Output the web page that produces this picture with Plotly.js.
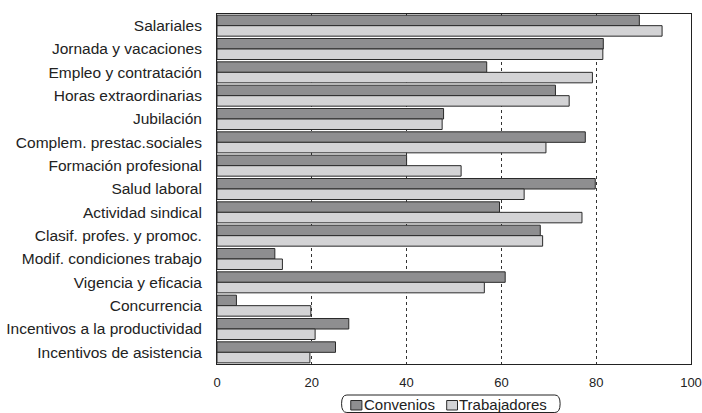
<!DOCTYPE html>
<html>
<head>
<meta charset="utf-8">
<script src="https://cdn.plot.ly/plotly-3.0.1.min.js"></script>
<style>html,body{margin:0;padding:0;background:#fff;}#chart{width:702px;height:413px;}</style>
</head>
<body>
<div id="chart"></div>
<script>
const categories = ["Salariales","Jornada y vacaciones","Empleo y contratación","Horas extraordinarias","Jubilación","Complem. prestac.sociales","Formación profesional","Salud laboral","Actividad sindical","Clasif. profes. y promoc.","Modif. condiciones trabajo","Vigencia y eficacia","Concurrencia","Incentivos a la productividad","Incentivos de asistencia"];
const convenios = [89.1,81.5,56.9,71.4,47.8,77.7,40.0,79.8,59.6,68.2,12.2,60.8,4.1,27.8,25.0];
const trabajadores = [93.9,81.4,79.2,74.3,47.5,69.4,51.5,64.8,77.0,68.7,13.8,56.4,19.8,20.7,19.6];
const seriesNames = ["Convenios","Trabajadores"];
const xTicks = [0,20,40,60,80,100];

const fam = "Liberation Sans, Arial, sans-serif";
const colors = ["#8e8e90","#d3d3d5"];
const edge = "#2a2a2a";
const traces = [
  {type:"bar", orientation:"h", name:seriesNames[0], y:categories, x:convenios,
   marker:{color:colors[0], line:{color:edge, width:1}}},
  {type:"bar", orientation:"h", name:seriesNames[1], y:categories, x:trabajadores,
   marker:{color:colors[1], line:{color:edge, width:1}}}
];

// manual compact legend (paper coordinates)
const legSquares = [[0.2822,0.3057],[0.4846,0.5074]];
const legTextX = [0.3099,0.5116];
const shapes = [{type:"path", xref:"paper", yref:"paper",
    path:"M 0.2740,-0.0886 L 0.7127,-0.0886 Q 0.7239,-0.0886 0.7239,-0.1136 Q 0.7239,-0.1386 0.7127,-0.1386 L 0.2740,-0.1386 Q 0.2628,-0.1386 0.2628,-0.1136 Q 0.2628,-0.0886 0.2740,-0.0886 Z",
    line:{color:"#222", width:1}, fillcolor:"rgba(0,0,0,0)"}];
const annotations = [];
seriesNames.forEach((n,i)=>{
  shapes.push({type:"rect", xref:"paper", yref:"paper", x0:legSquares[i][0], x1:legSquares[i][1], y0:-0.1043, y1:-0.1314,
               fillcolor:colors[i], line:{color:edge, width:1}});
  annotations.push({xref:"paper", yref:"paper", x:legTextX[i], y:-0.1143, xanchor:"left", yanchor:"middle",
                    text:n, showarrow:false, borderpad:0, font:{family:fam, size:15, color:"#222"}, xshift:-1});
});

const layout = {
  width:702, height:413,
  margin:{l:217, r:11, t:14, b:49, autoexpand:false},
  paper_bgcolor:"#fff", plot_bgcolor:"#fff",
  font:{family:fam, size:13, color:"#222"},
  barmode:"group", bargap:0.1, bargroupgap:0,
  showlegend:false,
  xaxis:{range:[0,100], tickvals:xTicks, showgrid:true, gridcolor:"#333", griddash:"dot", gridwidth:1,
         zeroline:false, showline:true, linecolor:"#222", linewidth:1, mirror:true,
         ticks:"outside", ticklen:6, tickcolor:"rgba(0,0,0,0)", tickfont:{family:fam, size:13, color:"#222"},
         fixedrange:true},
  yaxis:{autorange:"reversed", showgrid:false, zeroline:false, showline:true, linecolor:"#222", linewidth:1, mirror:true,
         ticks:"outside", ticklen:11, tickcolor:"rgba(0,0,0,0)", tickfont:{family:fam, size:15.5, color:"#222"},
         fixedrange:true},
  shapes: shapes,
  annotations: annotations
};
Plotly.newPlot("chart", traces, layout, {displayModeBar:false, staticPlot:true});
</script>
</body>
</html>
